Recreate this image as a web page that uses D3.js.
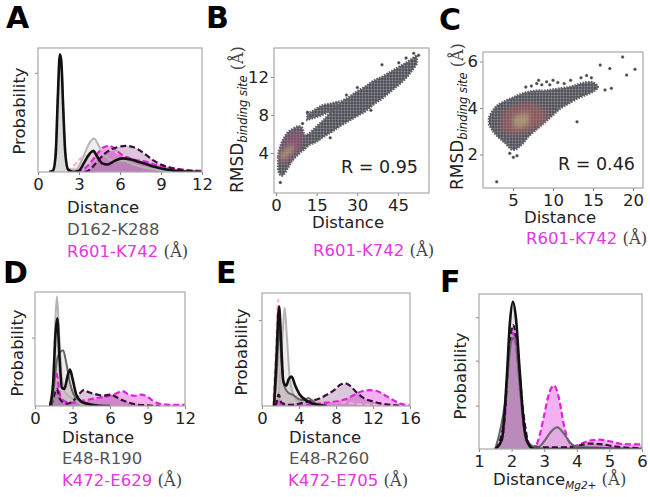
<!DOCTYPE html>
<html>
<head>
<meta charset="utf-8">
<script src="https://cdn.jsdelivr.net/npm/d3@7/dist/d3.min.js"></script>
<style>
  body { margin: 0; background: #fff; }
  svg text { font-family: "DejaVu Sans", sans-serif; }
</style>
</head>
<body>
<svg id="fig" width="650" height="497"></svg>
<script>
// ---- density curves, [distance, probability] ----
const blackA = [[0.8,0],[1.1,0.01],[1.3,0.15],[1.45,0.6],[1.6,0.95],[1.7,0.9],[1.85,0.5],[2.0,0.15],[2.2,0.02],[2.6,0],[3.0,0.01],[3.4,0.08],[3.8,0.15],[4.05,0.17],[4.3,0.13],[4.7,0.07],[5.1,0.06],[5.6,0.09],[6.2,0.11],[6.8,0.1],[7.4,0.08],[8.0,0.06],[8.6,0.04],[9.2,0.025],[10,0.01],[11,0.003],[12,0]];
const grayA = [[0.9,0],[1.2,0.05],[1.4,0.45],[1.6,0.92],[1.75,0.8],[1.95,0.25],[2.2,0.02],[2.8,0.02],[3.3,0.12],[3.8,0.24],[4.1,0.27],[4.5,0.2],[5.0,0.12],[5.6,0.09],[6.2,0.09],[7,0.06],[8,0.03],[9,0.015],[10,0.005],[12,0]];
const pinkA = [[2.2,0],[2.6,0.05],[3.0,0.1],[3.5,0.13],[4.0,0.14],[4.5,0.17],[5.0,0.19],[5.5,0.17],[6.0,0.14],[6.5,0.12],[7.0,0.1],[8.0,0.06],[9.0,0.03],[10,0.01],[12,0]];
const magA = [[2.8,0],[3.3,0.02],[3.8,0.07],[4.3,0.14],[4.8,0.2],[5.2,0.21],[5.6,0.19],[6.0,0.15],[6.5,0.12],[7.0,0.1],[7.5,0.09],[8.0,0.08],[8.5,0.06],[9.0,0.05],[9.5,0.04],[10,0.03],[11,0.015],[12,0.01]];
const purpA = [[3.4,0],[3.8,0.02],[4.3,0.08],[4.8,0.14],[5.3,0.18],[5.8,0.2],[6.4,0.21],[7.0,0.2],[7.5,0.17],[8.0,0.13],[8.5,0.09],[9.0,0.06],[9.5,0.04],[10,0.025],[10.5,0.015],[11,0.01],[11.5,0.005],[12,0]];

const lightGrayD = [[1.2,0],[1.45,0.2],[1.65,0.8],[1.76,0.96],[1.9,0.7],[2.1,0.3],[2.4,0.12],[2.8,0.08],[3.2,0.05],[3.6,0.02],[4,0]];
const blackD = [[1.2,0],[1.45,0.2],[1.65,0.65],[1.78,0.77],[1.95,0.45],[2.15,0.16],[2.35,0.15],[2.6,0.26],[2.8,0.32],[3.0,0.24],[3.3,0.1],[3.7,0.04],[4.2,0.02],[5,0.005],[6,0]];
const darkGrayD = [[1.3,0],[1.55,0.2],[1.75,0.4],[2.0,0.47],[2.25,0.49],[2.5,0.38],[2.8,0.2],[3.1,0.1],[3.5,0.05],[4,0.02],[5,0]];
const magD = [[1.2,0],[1.45,0.15],[1.65,0.3],[1.8,0.25],[2.0,0.1],[2.4,0.04],[3,0.03],[4,0.05],[5,0.07],[5.5,0.08],[6,0.09],[6.5,0.11],[7,0.13],[7.5,0.1],[8,0.09],[8.5,0.1],[9,0.08],[9.5,0.04],[10,0.02],[11,0.01],[12,0.01]];
const purpD = [[1.3,0],[1.55,0.1],[1.75,0.15],[2.0,0.06],[2.5,0.02],[3.0,0.04],[3.5,0.1],[3.9,0.14],[4.3,0.12],[5,0.1],[5.5,0.09],[6,0.1],[6.5,0.08],[7,0.05],[7.5,0.03],[8,0.015],[9,0.005],[10,0]];
const pinkD = [[1.2,0],[1.5,0.15],[1.8,0.25],[2.2,0.2],[2.6,0.18],[3.0,0.12],[3.5,0.07],[4,0.05],[5,0.07],[6,0.1],[7,0.08],[8,0.04],[9,0.02],[10,0]];

const pinkE = [[1.2,0],[1.5,0.5],[1.75,0.94],[1.95,0.6],[2.2,0.25],[2.6,0.12],[3.2,0.1],[4,0.08],[5,0.06],[6,0.04],[7,0.03],[8,0.03],[9,0.03],[10,0.02],[12,0.01],[14,0.005],[16,0]];
const blackE = [[1.3,0],[1.55,0.4],[1.85,0.88],[2.05,0.6],[2.3,0.22],[2.6,0.18],[2.9,0.24],[3.2,0.26],[3.6,0.18],[4.1,0.1],[4.6,0.06],[5.2,0.03],[6,0.01],[7,0]];
const lightGrayE = [[1.6,0],[1.9,0.2],[2.2,0.6],[2.45,0.87],[2.7,0.6],[3.0,0.25],[3.4,0.1],[3.8,0.05],[4.3,0.03],[5,0]];
const darkGrayE = [[1.3,0],[1.6,0.3],[1.85,0.7],[2.1,0.4],[2.4,0.18],[2.8,0.12],[3.3,0.1],[4,0.06],[4.6,0.05],[5.0,0.07],[5.4,0.05],[6,0.01],[7,0]];
const purpE = [[1.5,0],[1.8,0.1],[2.1,0.03],[3,0.01],[4,0.02],[5,0.04],[6,0.06],[7,0.1],[7.8,0.14],[8.5,0.19],[9.0,0.2],[9.5,0.18],[10,0.14],[10.5,0.1],[11,0.07],[12,0.04],[13,0.02],[14,0.01],[15,0]];
const magE = [[1.5,0],[1.8,0.05],[2.2,0.01],[4,0.005],[5,0.01],[6,0.02],[7,0.03],[8,0.04],[9,0.06],[10,0.1],[10.8,0.13],[11.7,0.14],[12.5,0.13],[13.2,0.1],[14,0.06],[15,0.02],[16,0.005]];

const blackF = [[1.5,0],[1.7,0.06],[1.85,0.45],[1.95,0.82],[2.04,0.95],[2.13,0.85],[2.25,0.5],[2.4,0.12],[2.55,0.02],[2.7,0],[6,0]];
const magF = [[1.5,0],[1.75,0.1],[1.9,0.55],[2.05,0.75],[2.2,0.55],[2.35,0.2],[2.5,0.04],[2.7,0.01],[2.85,0.08],[3.0,0.22],[3.15,0.36],[3.3,0.41],[3.45,0.33],[3.6,0.16],[3.75,0.05],[3.9,0.02],[4.1,0.03],[4.4,0.055],[4.7,0.06],[5.0,0.05],[5.3,0.035],[5.6,0.03],[6.0,0.03]];
const grayF = [[1.5,0],[1.8,0.3],[2.0,0.7],[2.1,0.72],[2.25,0.4],[2.45,0.05],[2.8,0.01],[3.0,0.05],[3.2,0.11],[3.4,0.14],[3.6,0.1],[3.8,0.04],[4,0.015],[4.5,0.01],[5,0.005],[6,0]];
const purpF = [[1.5,0],[1.75,0.15],[1.95,0.7],[2.05,0.8],[2.15,0.7],[2.35,0.25],[2.55,0.03],[3,0.01],[3.5,0.01],[4,0.02],[4.4,0.035],[4.8,0.03],[5.2,0.015],[6,0.005]];

// ---- scatter clouds: [distance, rmsdLow, rmsdHigh] outlines ----
const cloudB = [[0.8,2.6,3.6],[1.0,2.0,4.0],[2.0,1.6,5.0],[3.0,1.8,5.6],[4.5,2.5,6.2],[6.0,3.2,6.5],[8.0,3.8,6.8],[9.5,4.2,6.7],[10.5,4.4,5.9],[12,4.8,6.0],[15,5.2,6.8],[18,5.8,7.6],[21,6.3,8.6],[24,6.9,9.4],[27,7.4,9.9],[30,7.9,10.5],[33,8.4,11.0],[36,9.1,11.6],[39,9.7,12.0],[42,10.4,12.5],[45,11.1,13.0],[48,11.9,13.5],[50,12.6,13.9],[52,13.4,14.3]];
const fingerB = [[11.5,7.5,8.1],[14,7.7,8.5],[17,8.0,9.0],[20,8.4,9.2],[23,8.8,9.4]];
const coreB = [[1.5,2.8,4.0],[3.0,2.8,5.2],[5.0,3.2,6.0],[7.0,3.8,6.3],[9.0,4.5,6.3],[10.2,5.3,6.0]];
const hotB = [[1.5,3.3,3.8],[3.0,3.4,4.2],[5.0,3.9,4.7],[6.5,4.3,4.9]];
const outliersB = [[1.6,0.9],[50.8,14.5],[52.6,14.3],[39.1,13.3],[45.3,13.5],[48,14.0],[12.7,7.9],[11.6,8.3],[26,10.1],[30,10.9],[20,5.6],[35,8.5],[9.8,7.1]];

const cloudC = [[2.0,3.3,3.6],[2.5,3.0,3.9],[3.0,2.8,4.1],[4.0,2.5,4.3],[5.0,2.2,4.45],[6.0,2.4,4.6],[7.0,2.8,4.7],[8.0,3.1,4.75],[9.0,3.4,4.75],[10,3.7,4.8],[11,4.0,4.85],[12,4.2,4.9],[13,4.4,5.0],[14,4.55,5.1],[15,4.7,5.1],[15.6,4.85,4.95]];
const coreC = [[3.5,3.1,3.7],[4.5,2.9,4.0],[6.0,2.9,4.2],[7.5,3.1,4.2],[8.5,3.3,4.0],[9.3,3.5,3.8]];
const hotC = [[5.0,3.2,3.6],[6.0,3.15,3.75],[7.0,3.3,3.8]];
const outliersC = [[15.9,5.85],[17.1,5.7],[18.7,6.2],[19.2,5.42],[20.25,5.67],[16.5,4.78],[17.3,4.85],[13,3.41],[5.04,1.88],[2.96,0.83],[7.96,5.06],[9.2,5.13],[10.0,5.2],[8.6,5.0],[9.6,5.0],[10.6,5.1],[11.4,5.05],[7.3,4.95],[12.2,5.2],[13.5,5.3],[14.2,5.4],[14.8,5.3],[6.6,4.9],[8.2,5.2],[5.5,1.95],[4.6,2.05]];

const styles = {
  lightGray: { stroke: '#b4b4b4', width: 2, dash: null, fill: 'rgba(200,200,200,0.3)' },
  darkGray: { stroke: '#666', width: 2, dash: null, fill: 'rgba(150,150,150,0.18)' },
  pink: { stroke: '#f5b3c7', width: 2, dash: '5,3', fill: 'rgba(250,185,205,0.3)' },
  magenta: { stroke: '#e020e0', width: 2.2, dash: '6,3', fill: 'rgba(225,60,225,0.4)' },
  purple: { stroke: '#3a0c3a', width: 2.2, dash: '6,3', fill: 'rgba(130,50,130,0.28)' },
  black: { stroke: '#111', width: 2.6, dash: null, fill: 'rgba(120,120,120,0.18)' },
};
const drawOrder = ['lightGray', 'pink', 'magenta', 'purple', 'darkGray', 'black'];
const tickFmt = d3.format('~g');

const svg = d3.select('#fig');
const defs = svg.append('defs');

const pat = defs.append('pattern')
  .attr('id', 'dots')
  .attr('width', 3)
  .attr('height', 3)
  .attr('patternUnits', 'userSpaceOnUse');
pat.append('rect').attr('width', 3).attr('height', 3).attr('fill', '#6c6c74');
pat.append('circle').attr('cx', 1).attr('cy', 1).attr('r', 0.9).attr('fill', '#46464e');
pat.append('circle').attr('cx', 2.4).attr('cy', 2.3).attr('r', 0.45).attr('fill', '#b0b0b8');

defs.append('filter')
  .attr('id', 'blur')
  .attr('x', '-30%').attr('y', '-30%').attr('width', '160%').attr('height', '160%')
  .append('feGaussianBlur')
  .attr('stdDeviation', 2.5);

function styleAxis(g) {
  g.attr('font-size', 16.5).attr('font-family', '"DejaVu Sans", sans-serif');
  g.select('.domain').remove();
  g.selectAll('line').attr('stroke', '#888');
  g.selectAll('text').attr('fill', '#222');
}

function addBox(id, b) {
  defs.append('clipPath').attr('id', `clip-${id}`)
    .append('rect').attr('x', b.x).attr('y', b.y).attr('width', b.w).attr('height', b.h);
}

function drawFrame(b) {
  svg.append('rect')
    .attr('x', b.x).attr('y', b.y).attr('width', b.w).attr('height', b.h)
    .attr('fill', 'none').attr('stroke', '#a8a8a8').attr('stroke-width', 1.2);
}

function drawDensity(cfg) {
  addBox(cfg.id, cfg);
  const x = d3.scaleLinear().domain(cfg.xDomain).range([cfg.x, cfg.x + cfg.w]);
  const y = d3.scaleLinear().domain([0, 1]).range([cfg.y + cfg.h, cfg.y]);
  const g = svg.append('g').attr('clip-path', `url(#clip-${cfg.id})`);

  const area = d3.area()
    .x(d => x(d[0])).y0(y(0)).y1(d => y(d[1]))
    .curve(d3.curveMonotoneX);
  const line = d3.line()
    .x(d => x(d[0])).y(d => y(d[1]))
    .curve(d3.curveMonotoneX);

  const ordered = drawOrder
    .flatMap(k => cfg.series.filter(s => s[0] === k));

  ordered.forEach(([k, values]) => {
    g.append('path').attr('d', area(values)).attr('fill', styles[k].fill);
  });
  ordered.forEach(([k, values]) => {
    g.append('path').attr('d', line(values))
      .attr('fill', 'none')
      .attr('stroke', styles[k].stroke)
      .attr('stroke-width', styles[k].width)
      .attr('stroke-dasharray', styles[k].dash)
      .attr('stroke-linejoin', 'round');
  });

  svg.append('g')
    .attr('transform', `translate(0, ${cfg.y + cfg.h})`)
    .call(d3.axisBottom(x).tickValues(cfg.xTicks).tickFormat(tickFmt).tickSize(3).tickPadding(3))
    .call(styleAxis);
  svg.append('g')
    .attr('transform', `translate(${cfg.x}, 0)`)
    .call(d3.axisLeft(y).tickValues(cfg.yTicks).tickSize(3).tickFormat(''))
    .call(styleAxis);
  drawFrame(cfg);
}

function drawScatter(cfg) {
  addBox(cfg.id, cfg);
  const x = d3.scaleLinear().domain(cfg.xDomain).range([cfg.x, cfg.x + cfg.w]);
  const y = d3.scaleLinear().domain(cfg.yDomain).range([cfg.y + cfg.h, cfg.y]);
  const g = svg.append('g').attr('clip-path', `url(#clip-${cfg.id})`);

  const band = d3.area()
    .x(d => x(d[0])).y0(d => y(d[1])).y1(d => y(d[2]))
    .curve(d3.curveCatmullRom);

  cfg.clouds.forEach((c) => {
    g.append('path').attr('d', band(c) + 'Z')
      .attr('fill', 'url(#dots)')
      .attr('stroke', '#606068')
      .attr('stroke-width', 2.4)
      .attr('stroke-dasharray', '1.6,1.2');
  });
  g.append('path').attr('d', band(cfg.core))
    .attr('fill', cfg.coreColor)
    .attr('filter', 'url(#blur)');
  g.append('path').attr('d', band(cfg.hot))
    .attr('fill', cfg.hotColor)
    .attr('filter', 'url(#blur)');

  g.selectAll('.pt')
    .data(cfg.outliers)
    .enter().append('circle')
    .attr('cx', d => x(d[0]))
    .attr('cy', d => y(d[1]))
    .attr('r', 1.5)
    .attr('fill', '#444')
    .attr('stroke', '#999')
    .attr('stroke-width', 0.4);

  svg.append('g')
    .attr('transform', `translate(0, ${cfg.y + cfg.h})`)
    .call(d3.axisBottom(x).tickValues(cfg.xTicks).tickFormat(tickFmt).tickSize(3).tickPadding(3))
    .call(styleAxis);
  svg.append('g')
    .attr('transform', `translate(${cfg.x}, 0)`)
    .call(d3.axisLeft(y).tickValues(cfg.yTicks).tickFormat(tickFmt).tickSize(3).tickPadding(2))
    .call(styleAxis);
  drawFrame(cfg);

  svg.append('text')
    .attr('x', cfg.rText[0]).attr('y', cfg.rText[1])
    .attr('font-size', 17.5).attr('fill', '#222')
    .text(cfg.rLabel);
}

// text helpers
function addParts(t, parts) {
  parts.forEach((p) => {
    const s = t.append('tspan').text(p.t).attr('fill', p.c || '#222');
    if (p.serif) s.attr('font-family', '"DejaVu Serif", serif');
    if (p.size) s.attr('font-size', p.size);
    if (p.italic) s.attr('font-style', 'italic');
    if (p.dy) s.attr('dy', p.dy);
  });
}

function textLine(x, y, parts, anchor = 'start') {
  const t = svg.append('text')
    .attr('x', x).attr('y', y)
    .attr('font-size', 16.5)
    .attr('text-anchor', anchor);
  addParts(t, parts);
}

function rotLabel(x, y, parts, anchor = 'middle') {
  const t = svg.append('g')
    .attr('transform', `translate(${x}, ${y}) rotate(-90)`)
    .append('text')
    .attr('text-anchor', anchor)
    .attr('font-size', 16.5);
  addParts(t, parts);
}

function panelLetter(x, y, letter) {
  svg.append('text')
    .attr('x', x).attr('y', y)
    .attr('font-family', '"Liberation Sans", Arial, sans-serif')
    .attr('font-weight', 'bold')
    .attr('font-size', 30)
    .attr('fill', '#000')
    .text(letter);
}

const magenta = '#e535e5';
const grayText = '#555';
const angstrom = { t: ' (\u00C5)', c: '#444', serif: true };

// ---- panels ----
drawDensity({
  id: 'A', x: 38, y: 48, w: 164, h: 124,
  xDomain: [0, 12], xTicks: [0, 3, 6, 9, 12], yTicks: [0.8],
  series: [['lightGray', grayA], ['pink', pinkA], ['magenta', magA], ['purple', purpA], ['black', blackA]],
});
drawDensity({
  id: 'D', x: 35, y: 292, w: 150, h: 114,
  xDomain: [0, 12], xTicks: [0, 3, 6, 9, 12], yTicks: [0.6],
  series: [['lightGray', lightGrayD], ['pink', pinkD], ['magenta', magD], ['purple', purpD], ['darkGray', darkGrayD], ['black', blackD]],
});
drawDensity({
  id: 'E', x: 262, y: 293, w: 148, h: 113,
  xDomain: [0, 16], xTicks: [0, 4, 8, 12, 16], yTicks: [0.76],
  series: [['lightGray', lightGrayE], ['pink', pinkE], ['magenta', magE], ['purple', purpE], ['darkGray', darkGrayE], ['black', blackE]],
});
drawDensity({
  id: 'F', x: 479, y: 294, w: 163, h: 155,
  xDomain: [1, 6], xTicks: [1, 2, 3, 4, 5, 6], yTicks: [0.28, 0.57, 0.85],
  series: [['magenta', magF], ['purple', purpF], ['darkGray', grayF], ['black', blackF]],
});

drawScatter({
  id: 'B', x: 274, y: 48, w: 155, h: 145,
  xDomain: [-0.74, 56.45], yDomain: [-0.21, 15.05],
  xTicks: [0, 15, 30, 45], yTicks: [4, 8, 12],
  clouds: [cloudB, fingerB], core: coreB, hot: hotB, outliers: outliersB,
  coreColor: 'rgba(150,85,120,0.65)', hotColor: 'rgba(185,175,115,0.7)',
  rText: [341, 173], rLabel: 'R = 0.95',
});
drawScatter({
  id: 'C', x: 483, y: 52, w: 160, h: 136,
  xDomain: [1.25, 21.25], yDomain: [0.56, 6.41],
  xTicks: [5, 10, 15, 20], yTicks: [2, 4, 6],
  clouds: [cloudC], core: coreC, hot: hotC, outliers: outliersC,
  coreColor: 'rgba(175,95,95,0.55)', hotColor: 'rgba(190,178,130,0.6)',
  rText: [558, 170], rLabel: 'R = 0.46',
});

// ---- axis titles ----
rotLabel(25, 111, [{ t: 'Probability' }]);
rotLabel(23, 353, [{ t: 'Probability' }]);
rotLabel(247, 352, [{ t: 'Probability' }]);
rotLabel(466, 376, [{ t: 'Probability' }]);

const rmsd = [
  { t: 'RMSD', size: 17 },
  { t: 'binding site', size: 11.5, italic: true, dy: 4 },
  { t: ' (\u00C5)', c: '#444', serif: true, size: 16, dy: -4 },
];
rotLabel(243, 193, rmsd, 'start');
rotLabel(463, 190, rmsd, 'start');

textLine(67, 213, [{ t: 'Distance' }]);
textLine(67, 235, [{ t: 'D162-K288', c: grayText }]);
textLine(67, 257, [{ t: 'R601-K742', c: magenta }, angstrom]);

textLine(348, 228, [{ t: 'Distance' }], 'middle');
textLine(313, 256, [{ t: 'R601-K742', c: magenta }, angstrom]);

textLine(560, 223, [{ t: 'Distance' }], 'middle');
textLine(526, 244, [{ t: 'R601-K742', c: magenta }, angstrom]);

textLine(62, 443, [{ t: 'Distance' }]);
textLine(62, 464, [{ t: 'E48-R190', c: grayText }]);
textLine(62, 486, [{ t: 'K472-E629', c: magenta }, angstrom]);

textLine(289, 443, [{ t: 'Distance' }]);
textLine(289, 464, [{ t: 'E48-R260', c: grayText }]);
textLine(288, 486, [{ t: 'K472-E705', c: magenta }, angstrom]);

textLine(493, 485, [
  { t: 'Distance' },
  { t: 'Mg2+', size: 10.5, italic: true, dy: 4 },
  { t: ' (\u00C5)', c: '#444', serif: true, dy: -4 },
]);

panelLetter(6, 28, 'A');
panelLetter(206, 28, 'B');
panelLetter(439, 30, 'C');
panelLetter(3, 283, 'D');
panelLetter(216, 283, 'E');
panelLetter(440, 292, 'F');
</script>
</body>
</html>
